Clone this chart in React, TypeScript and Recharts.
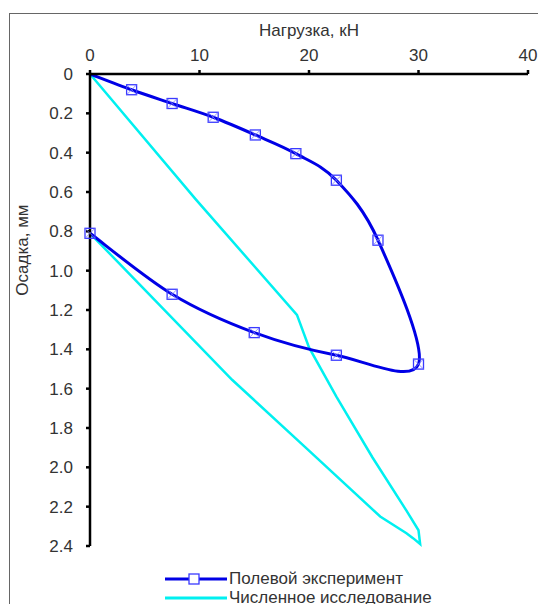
import { LineChart, Line, XAxis, YAxis } from 'recharts';

// Полевой эксперимент (нагрузка, кН / осадка, мм)
const fieldLoad = [0, 3.8, 7.5, 11.25, 15.1, 18.8, 22.5, 26.3, 30.0, 22.5, 15.0, 7.5, 0];
const fieldSettle = [0, 0.08, 0.15, 0.22, 0.31, 0.405, 0.54, 0.845, 1.475, 1.43, 1.315, 1.12, 0.81];

// Численное исследование
const numLoad = [0, 9.7, 18.9, 20.0, 22.5, 25.8, 28.9, 30.0, 30.15, 29.5, 28.9, 26.5, 19.7, 13.0, 0];
const numSettle = [0, 0.64, 1.225, 1.39, 1.64, 1.95, 2.22, 2.32, 2.39, 2.36, 2.335, 2.25, 1.9, 1.556, 0.81];

const xTicks = [0, 10, 20, 30, 40];
const yTicks = [0, 0.2, 0.4, 0.6, 0.8, 1.0, 1.2, 1.4, 1.6, 1.8, 2.0, 2.2, 2.4];

const fieldData = fieldLoad.map((x, i) => ({ x, y: fieldSettle[i] }));
const numData = numLoad.map((x, i) => ({ x, y: numSettle[i] }));

const BLUE = '#0000e6';
const CYAN = '#00f0f0';
const FONT = 'Liberation Sans, Arial, sans-serif';
const TXT = '#333';

// сглаживание как в Excel (Катмулл-Ром через кривые Безье)
const excelSmooth = (context: any) => {
  let pts: number[][] = [];
  return {
    areaStart() {},
    areaEnd() {},
    lineStart() {
      pts = [];
    },
    point(x: number, y: number) {
      pts.push([x, y]);
    },
    lineEnd() {
      if (!pts.length) return;
      context.moveTo(pts[0][0], pts[0][1]);
      for (let i = 0; i < pts.length - 1; i++) {
        const p0 = pts[i - 1] || pts[i];
        const p1 = pts[i];
        const p2 = pts[i + 1];
        const p3 = pts[i + 2] || p2;
        context.bezierCurveTo(
          p1[0] + (p2[0] - p0[0]) / 6,
          p1[1] + (p2[1] - p0[1]) / 6,
          p2[0] - (p3[0] - p1[0]) / 6,
          p2[1] - (p3[1] - p1[1]) / 6,
          p2[0],
          p2[1]
        );
      }
    },
  };
};

const Marker = ({ cx, cy, index }: any) => {
  if (index === 0 || cx == null) return <g key={`m${index}`} />;
  const s = 5;
  return (
    <g key={`m${index}`}>
      <rect x={cx - s} y={cy - s} width={s * 2} height={s * 2} fill="none" stroke="#3a3aff" strokeWidth={1.3} />
      <path d={`M${cx - s} ${cy - s} L${cx + s} ${cy + s} M${cx + s} ${cy - s} L${cx - s} ${cy + s}`} stroke="#7a7aff" strokeWidth={0.8} />
    </g>
  );
};

const YLabel = ({ viewBox }: any) => {
  const x = viewBox.x + 13;
  const y = viewBox.y + viewBox.height * 0.373;
  return (
    <text x={x} y={y} transform={`rotate(-90 ${x} ${y})`} textAnchor="middle" dominantBaseline="central" fill={TXT} fontSize={17} fontFamily={FONT}>
      Осадка, мм
    </text>
  );
};

const LegendBox = () => (
  <div style={{ position: 'absolute', left: 153, top: 555, fontFamily: FONT, fontSize: 17, color: TXT, lineHeight: '19px' }}>
    <div style={{ display: 'flex', alignItems: 'center', height: 19 }}>
      <svg width={64} height={16}>
        <line x1={2} y1={8} x2={64} y2={8} stroke={BLUE} strokeWidth={3} />
        <rect x={26} y={3} width={10} height={10} fill="white" stroke="#3a3aff" strokeWidth={1.3} />
      </svg>
      <span style={{ marginLeft: 2 }}>Полевой эксперимент</span>
    </div>
    <div style={{ display: 'flex', alignItems: 'center', height: 19 }}>
      <svg width={64} height={16}>
        <line x1={2} y1={8} x2={64} y2={8} stroke={CYAN} strokeWidth={3} />
      </svg>
      <span style={{ marginLeft: 2 }}>Численное исследование</span>
    </div>
  </div>
);

export default function App() {
  return (
    <div style={{ marginTop: 5, marginLeft: 1, width: 600, height: 640, border: '1px solid #666', position: 'relative' }}>
      <style>{`body{overflow:hidden}`}</style>
      <LineChart width={560} height={600} margin={{ top: 0, right: 42, left: 0, bottom: 68 }}>
        <XAxis
          type="number"
          dataKey="x"
          orientation="top"
          domain={[0, 40]}
          ticks={xTicks}
          height={60}
          axisLine={{ stroke: '#000', strokeWidth: 2.5 }}
          tickLine={{ stroke: '#000', strokeWidth: 2.5 }}
          tickSize={4}
          tickMargin={9}
          tick={{ fill: TXT, fontSize: 17, fontFamily: FONT }}
          label={{ value: 'Нагрузка, кН', position: 'insideTop', offset: 10, fill: TXT, fontSize: 17, fontFamily: FONT }}
        />
        <YAxis
          type="number"
          dataKey="y"
          reversed
          domain={[0, 2.4]}
          ticks={yTicks}
          width={80}
          axisLine={{ stroke: '#000', strokeWidth: 2.5 }}
          tickLine={{ stroke: '#000', strokeWidth: 2.5 }}
          tickSize={4}
          tickMargin={13}
          tickFormatter={(v: number) => (v === 0 ? '0' : v.toFixed(1))}
          tick={{ fill: TXT, fontSize: 17, fontFamily: FONT }}
          label={{ content: YLabel }}
        />
        <Line
          data={numData}
          dataKey="y"
          type="linear"
          stroke={CYAN}
          strokeWidth={2.5}
          dot={false}
          activeDot={false}
          isAnimationActive={false}
          name="Численное исследование"
        />
        <Line
          data={fieldData}
          dataKey="y"
          type={excelSmooth as any}
          stroke={BLUE}
          strokeWidth={3}
          dot={<Marker />}
          activeDot={false}
          isAnimationActive={false}
          name="Полевой эксперимент"
        />
      </LineChart>
      <LegendBox />
    </div>
  );
}
